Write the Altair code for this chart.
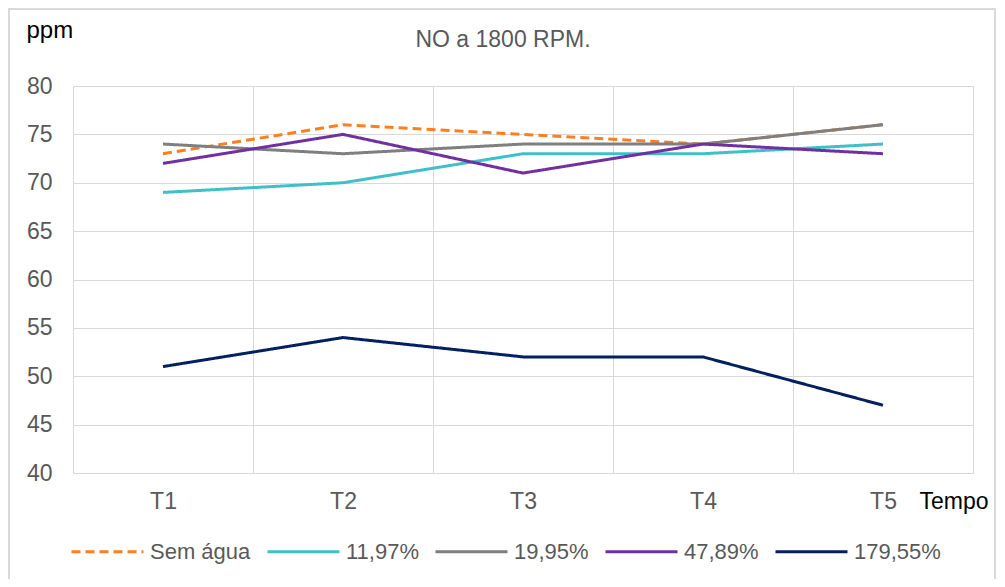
import altair as alt
import pandas as pd

categories = ["T1", "T2", "T3", "T4", "T5"]
series_names = ["Sem água", "11,97%", "19,95%", "47,89%", "179,55%"]
sem_agua = [73, 76, 75, 74, 76]
p_1197 = [69, 70, 73, 73, 74]
p_1995 = [74, 73, 74, 74, 76]
p_4789 = [72, 75, 71, 74, 73]
p_17955 = [51, 54, 52, 52, 47]
y_ticks = [40, 45, 50, 55, 60, 65, 70, 75, 80]

colors = ["#FF7F1F", "#3FC0C8", "#7F7F7F", "#7030A0", "#002060"]
dashes = [[9, 5], [1, 0], [1, 0], [1, 0], [1, 0]]

series_values = [sem_agua, p_1197, p_1995, p_4789, p_17955]
rows = []
for name, vals in zip(series_names, series_values):
    for cat, v in zip(categories, vals):
        rows.append({"tempo": cat, "ppm": v, "serie": name})
df = pd.DataFrame(rows)

FONT = "Liberation Sans"
GRID = "#D9D9D9"
TXT = "#595959"


def make_legend():
    return alt.Legend(
        title=None,
        orient="none",
        legendX=-3,
        legendY=428,
        direction="horizontal",
        symbolType="stroke",
        symbolSize=5184,
        symbolStrokeWidth=3,
        labelFontSize=22,
        labelColor=TXT,
        labelFont=FONT,
        labelOffset=5,
        columnPadding=10,
    )


lines = alt.Chart(df).mark_line(strokeWidth=3).encode(
    x=alt.X(
        "tempo:N",
        sort=categories,
        bandPosition=0.5,
        scale=alt.Scale(type="band", domain=categories, paddingInner=0, paddingOuter=0),
        axis=alt.Axis(
            tickBand="extent",
            grid=True,
            gridColor=GRID,
            gridWidth=1,
            ticks=False,
            tickSize=0,
            domain=False,
            labelAngle=0,
            labelFontSize=23,
            labelColor=TXT,
            labelFont=FONT,
            labelPadding=28,
            labelBaseline="middle",
            title="Tempo",
            titleX=846,
            titleY=28,
            titleAlign="left",
            titleBaseline="middle",
            titleFontSize=23,
            titleFontWeight="normal",
            titleColor="black",
            titleFont=FONT,
        ),
    ),
    y=alt.Y(
        "ppm:Q",
        scale=alt.Scale(domain=[40, 80], nice=False, zero=False),
        axis=alt.Axis(
            values=y_ticks,
            grid=True,
            gridColor=GRID,
            ticks=False,
            tickSize=0,
            domain=False,
            labelFontSize=23,
            labelColor=TXT,
            labelFont=FONT,
            labelPadding=21,
            title="ppm",
            titleAngle=0,
            titleX=-47,
            titleY=-49,
            titleAlign="left",
            titleBaseline="alphabetic",
            titleFontSize=24,
            titleFontWeight="normal",
            titleColor="black",
            titleFont=FONT,
        ),
    ),
    color=alt.Color(
        "serie:N",
        sort=series_names,
        scale=alt.Scale(domain=series_names, range=colors),
        legend=make_legend(),
    ),
    strokeDash=alt.StrokeDash(
        "serie:N",
        sort=series_names,
        scale=alt.Scale(domain=series_names, range=dashes),
        legend=make_legend(),
    ),
)

title_layer = alt.Chart(alt.Data(values=[{"t": "NO a 1800 RPM."}])).mark_text(
    fontSize=23, color=TXT, font=FONT, baseline="alphabetic", align="center"
).encode(x=alt.value(430), y=alt.value(-39), text="t:N")

border = alt.Chart(alt.Data(values=[{"b": 1}])).mark_rect(
    fillOpacity=0, stroke=GRID, strokeWidth=2
).encode(x=alt.value(-64), x2=alt.value(922), y=alt.value(-77), y2=alt.value(530))

chart = alt.layer(border, lines, title_layer).properties(
    width=900,
    height=387,
    autosize=alt.AutoSizeParams(type="none"),
    padding={"left": 65, "top": 78, "right": 24, "bottom": 106},
).configure_view(stroke=None).configure(font=FONT)

chart.save("out.html", embed_options={"renderer": "svg", "actions": False})
